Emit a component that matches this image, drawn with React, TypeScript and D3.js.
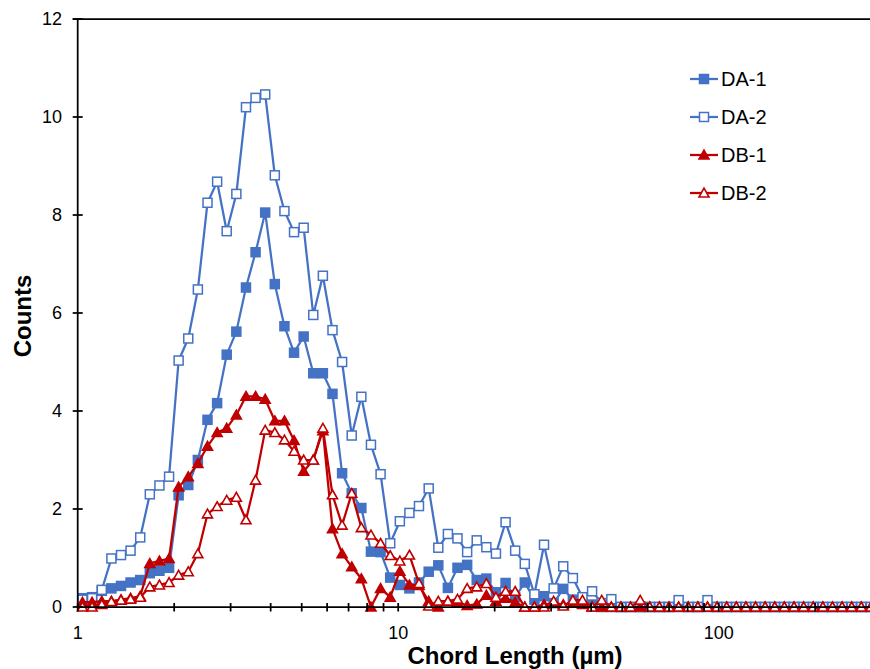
import React from "react";
import * as d3 from "d3";

// Chord-length channel centres (µm) of the instrument grid
const chordLength = [
  1.035, 1.109, 1.189, 1.274, 1.365, 1.462, 1.567, 1.679, 1.799, 1.928,
  2.065, 2.213, 2.371, 2.541, 2.723, 2.917, 3.126, 3.35, 3.589, 3.846,
  4.121, 4.416, 4.732, 5.07, 5.433, 5.821, 6.237, 6.683, 7.161, 7.674,
  8.222, 8.811, 9.441, 10.12, 10.84, 11.61, 12.45, 13.34, 14.29, 15.31,
  16.41, 17.58, 18.84, 20.18, 21.63, 23.17, 24.83, 26.61, 28.51, 30.55,
  32.73, 35.08, 37.58, 40.27, 43.15, 46.24, 49.55, 53.09, 56.89, 60.95,
  65.31, 69.98, 74.99, 80.35, 86.1, 92.26, 98.86, 105.9, 113.5, 121.6,
  130.3, 139.6, 149.6, 160.3, 171.8, 184.1, 197.2, 211.4, 226.5, 242.7,
  260.0, 278.6, 298.5,
];

const DA1 = [
  0.18, 0.2, 0.33, 0.38, 0.43, 0.5, 0.55, 0.69, 0.74, 0.8,
  2.28, 2.49, 3.0, 3.82, 4.16, 5.15, 5.62, 6.52, 7.24, 8.05,
  6.59, 5.73, 5.19, 5.52, 4.77, 4.77, 4.35, 2.73, 2.32, 2.02,
  1.13, 1.12, 0.6, 0.45, 0.38, 0.5, 0.72, 0.85, 0.39, 0.8,
  0.86, 0.55, 0.58, 0.3, 0.49, 0.2, 0.5, 0.15, 0.22, 0.08,
  0.37, 0.15, 0.08, 0.05, 0, 0, 0, 0, 0, 0,
  0, 0, 0, 0, 0, 0, 0, 0, 0, 0,
  0, 0, 0, 0, 0, 0, 0, 0, 0, 0,
  0, 0, 0,
];

const DA2 = [
  0.15, 0.18, 0.35, 0.99, 1.06, 1.15, 1.42, 2.3, 2.48, 2.66,
  5.03, 5.48, 6.48, 8.25, 8.68, 7.67, 8.43, 10.2, 10.39, 10.46,
  8.81, 8.08, 7.65, 7.74, 5.96, 6.76, 5.65, 5.0, 3.5, 4.29,
  3.31, 2.71, 1.3, 1.75, 1.92, 2.06, 2.42, 1.21, 1.49, 1.4,
  1.12, 1.36, 1.22, 1.09, 1.73, 1.15, 0.88, 0.26, 1.27, 0.38,
  0.83, 0.59, 0.2, 0.32, 0.08, 0.16, 0, 0, 0, 0,
  0, 0, 0.14, 0, 0, 0.14, 0, 0, 0, 0,
  0, 0, 0, 0, 0, 0, 0, 0, 0, 0,
  0, 0, 0,
];

const DB1 = [
  0.1, 0.1, 0.12, 0.12, 0.15, 0.18, 0.22, 0.89, 0.94, 0.99,
  2.45, 2.66, 2.93, 3.28, 3.56, 3.65, 3.92, 4.3, 4.3, 4.24,
  3.8, 3.8, 3.4, 2.77, 3.0, 3.6, 1.6, 1.09, 0.82, 0.58,
  0, 0.38, 0.2, 0.73, 0.45, 0.44, 0.12, 0, 0.12, 0.1,
  0.03, 0.06, 0.24, 0.12, 0.18, 0.1, 0, 0, 0.05, 0.08,
  0.05, 0.08, 0.05, 0, 0, 0, 0, 0, 0, 0,
  0, 0, 0, 0, 0, 0, 0, 0, 0, 0,
  0, 0, 0, 0, 0, 0, 0, 0, 0, 0,
  0, 0, 0,
];

const DB2 = [
  0, 0, 0.05, 0.11, 0.14, 0.16, 0.2, 0.41, 0.45, 0.5,
  0.65, 0.72, 1.09, 1.9, 2.05, 2.18, 2.24, 1.78, 2.59, 3.61,
  3.56, 3.41, 3.18, 3.0, 3.0, 3.65, 2.29, 1.67, 2.32, 1.62,
  1.47, 1.3, 1.05, 0.94, 1.06, 0.48, 0.02, 0.12, 0.12, 0.16,
  0.38, 0.41, 0.48, 0.2, 0.32, 0.32, 0, 0, 0, 0.12,
  0.02, 0.14, 0.14, 0, 0.14, 0, 0, 0, 0.14, 0,
  0, 0, 0, 0, 0, 0, 0, 0, 0, 0,
  0, 0, 0, 0, 0, 0, 0, 0, 0, 0,
  0, 0, 0,
];

const seriesNames = ["DA-1", "DA-2", "DB-1", "DB-2"];
const yTicks = [0, 2, 4, 6, 8, 10, 12];
const xMajorTicks = [1, 10, 100];
const xTitle = "Chord Length (µm)";
const yTitle = "Counts";

const W = 870;
const H = 669;
const FONT = "'Liberation Sans', Arial, Helvetica, sans-serif";
const BLUE = "#4472C4";
const RED = "#C00000";

type Marker = "sqFill" | "sqOpen" | "triFill" | "triOpen";

const seriesData = [DA1, DA2, DB1, DB2];
const seriesStyle: { color: string; marker: Marker }[] = [
  { color: BLUE, marker: "sqFill" },
  { color: BLUE, marker: "sqOpen" },
  { color: RED, marker: "triFill" },
  { color: RED, marker: "triOpen" },
];

function MarkerShape({ x, y, color, marker }: { x: number; y: number; color: string; marker: Marker }) {
  if (marker === "sqFill" || marker === "sqOpen") {
    const s = 9;
    return (
      <rect
        x={x - s / 2}
        y={y - s / 2}
        width={s}
        height={s}
        fill={marker === "sqFill" ? color : "#fff"}
        stroke={color}
        strokeWidth={1.5}
      />
    );
  }
  const hw = 5;
  const p = `M${x},${y - 4.8}L${x + hw},${y + 4}L${x - hw},${y + 4}Z`;
  return <path d={p} fill={marker === "triFill" ? color : "#fff"} stroke={color} strokeWidth={1.6} strokeLinejoin="miter" />;
}

export default function App() {
  const x0 = 77.7;
  const xRight = W;
  const yTop = 19;
  const yBottom = 607;
  const xMax = Math.pow(10, (xRight - x0) / 320.5);

  const x = d3.scaleLog().domain([1, xMax]).range([x0, xRight]);
  const y = d3.scaleLinear().domain([0, 12]).range([yBottom, yTop]);

  const line = d3
    .line<[number, number]>()
    .x((d) => x(d[0]))
    .y((d) => y(d[1]));

  const minorTicks: number[] = [];
  for (const dec of [1, 10, 100]) {
    for (let m = 2; m <= 9; m++) {
      const v = m * dec;
      if (v <= xMax) minorTicks.push(v);
    }
  }

  const legendY = [79, 117, 155, 193];

  return (
    <svg
      width={W}
      height={H}
      style={{ position: "absolute", left: 0, top: 0, background: "#fff" }}
      fontFamily={FONT}
    >
      <rect x={0} y={0} width={W} height={H} fill="#fff" />
      {/* series */}
      {seriesData.map((vals, si) => {
        const pts: [number, number][] = vals.map((v, i) => [chordLength[i], v]);
        const st = seriesStyle[si];
        return (
          <g key={si}>
            <path d={line(pts) || ""} fill="none" stroke={st.color} strokeWidth={2.25} strokeLinejoin="round" />
            {pts.map((p, i) => (
              <MarkerShape key={i} x={x(p[0])} y={y(p[1])} color={st.color} marker={st.marker} />
            ))}
          </g>
        );
      })}

      {/* axes */}
      <line x1={72.7} x2={W} y1={yTop} y2={yTop} stroke="#000" strokeWidth={1.75} />
      <line x1={x0} x2={x0} y1={yTop} y2={yBottom} stroke="#000" strokeWidth={1.75} />
      <line x1={x0} x2={W} y1={yBottom} y2={yBottom} stroke="#000" strokeWidth={1.75} />
      {yTicks.map((t) => (
        <g key={t}>
          <line x1={72.7} x2={82.7} y1={y(t)} y2={y(t)} stroke="#000" strokeWidth={1.75} />
          <text x={62} y={y(t)} dy="0.35em" textAnchor="end" fontSize={18} fill="#000">
            {t}
          </text>
        </g>
      ))}
      {[...xMajorTicks, ...minorTicks].map((t) => (
        <line key={"xt" + t} x1={x(t)} x2={x(t)} y1={yBottom - 4} y2={yBottom + 4.5} stroke="#000" strokeWidth={1.75} />
      ))}
      {xMajorTicks.map((t) => (
        <text key={"xl" + t} x={x(t)} y={639} textAnchor="middle" fontSize={18} fill="#000">
          {t}
        </text>
      ))}

      {/* titles */}
      <text x={515} y={664} textAnchor="middle" fontSize={24} fontWeight="bold" fill="#000">
        {xTitle}
      </text>
      <text transform="translate(31,316) rotate(-90)" textAnchor="middle" fontSize={24} fontWeight="bold" fill="#000">
        {yTitle}
      </text>

      {/* legend */}
      {seriesNames.map((name, i) => (
        <g key={name}>
          <line x1={690} x2={718} y1={legendY[i]} y2={legendY[i]} stroke={seriesStyle[i].color} strokeWidth={2.25} />
          <MarkerShape x={704} y={legendY[i]} color={seriesStyle[i].color} marker={seriesStyle[i].marker} />
          <text x={721} y={legendY[i]} dy="0.35em" fontSize={20} fill="#000">
            {name}
          </text>
        </g>
      ))}
    </svg>
  );
}
